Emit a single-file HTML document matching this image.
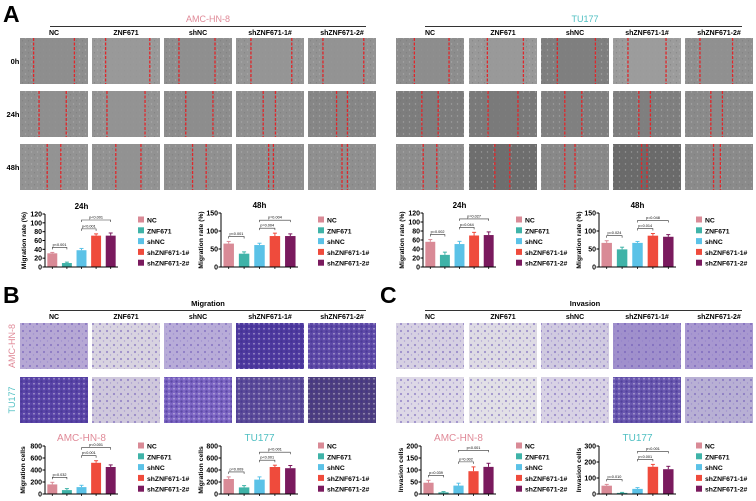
<!DOCTYPE html>
<html><head><meta charset="utf-8">
<style>
html,body{margin:0;padding:0;background:#fff;}
body{width:756px;height:501px;overflow:hidden;position:relative;font-family:"Liberation Sans",sans-serif;}
svg{position:absolute;left:0;top:0;}
</style></head>
<body>
<svg id="fig" width="756" height="501" viewBox="0 0 756 501" xmlns="http://www.w3.org/2000/svg">
<defs>
<pattern id="cellsTex" width="6" height="6" patternUnits="userSpaceOnUse"><circle cx="1.5" cy="2" r="0.7" fill="#b9b9b9"/><circle cx="4.5" cy="4.8" r="0.6" fill="#6f6f6f"/></pattern>
<pattern id="dotsDark" width="5" height="5" patternUnits="userSpaceOnUse"><circle cx="1.5" cy="1.5" r="1.2" fill="#3a2a88"/><circle cx="4" cy="3.8" r="0.9" fill="#e8e2f0"/></pattern>
<pattern id="dotsLight" width="7" height="7" patternUnits="userSpaceOnUse"><circle cx="2" cy="2" r="1.1" fill="#6a55b5"/><circle cx="5.5" cy="5" r="0.7" fill="#8a78c8"/></pattern>
</defs>
<g id="static" font-family="Liberation Sans, sans-serif" font-weight="bold">
<text x="3" y="22" font-size="23">A</text>
<text x="3" y="303" font-size="23">B</text>
<text x="380" y="303" font-size="23">C</text>
<text x="208" y="22" font-size="9" fill="#e08a98" text-anchor="middle" font-weight="normal">AMC-HN-8</text>
<line x1="50" y1="26.5" x2="366" y2="26.5" stroke="#333" stroke-width="1"/>
<text x="585" y="22" font-size="9" fill="#4fbfc2" text-anchor="middle" font-weight="normal">TU177</text>
<line x1="425" y1="26.5" x2="742" y2="26.5" stroke="#333" stroke-width="1"/>
<text x="208" y="306" font-size="7.5" text-anchor="middle">Migration</text>
<line x1="50" y1="310.5" x2="366" y2="310.5" stroke="#333" stroke-width="1"/>
<text x="585" y="306" font-size="7.5" text-anchor="middle">Invasion</text>
<line x1="425" y1="310.5" x2="742" y2="310.5" stroke="#333" stroke-width="1"/>
<text x="15" y="64" font-size="7.5" text-anchor="middle">0h</text>
<text x="13" y="117" font-size="7.5" text-anchor="middle">24h</text>
<text x="13" y="170" font-size="7.5" text-anchor="middle">48h</text>
<text transform="translate(15,346) rotate(-90)" font-size="9" fill="#e08a98" text-anchor="middle" font-weight="normal">AMC-HN-8</text>
<text transform="translate(15,400) rotate(-90)" font-size="9" fill="#4fbfc2" text-anchor="middle" font-weight="normal">TU177</text>
</g>
<g id="images"></g>
<g id="charts"></g>
</svg>
<script>
// ---- chart data ----
var groups = ["NC","ZNF671","shNC","shZNF671-1#","shZNF671-2#"];
var colors = ["#d98a96","#3fb3a8","#5bc2e7","#ef4b3c","#7a1a5e"];
var a1Vals = [31,9,38,71,71];   var a1Err = [2,2,4,4,6];   var a1Ticks = [0,20,40,60,80,100,120];
var a1P = ["p<0.001","p<0.001","p<0.001"];
var a2Vals = [65,37,61,86,86];  var a2Err = [6,5,5,8,6];   var a2Ticks = [0,50,100,150];
var a2P = ["p<0.001","p=0.004","p=0.004"];
var a3Vals = [56,27,51,70,71];  var a3Err = [5,6,6,7,7];   var a3Ticks = [0,20,40,60,80,100,120];
var a3P = ["p=0.002","p=0.044","p=0.027"];
var a4Vals = [67,49,67,87,84];  var a4Err = [6,6,4,6,6];   var a4Ticks = [0,50,100,150];
var a4P = ["p=0.024","p=0.014","p=0.048"];
var b1Vals = [160,65,115,520,450]; var b1Err = [35,25,30,35,35]; var b1Ticks = [0,200,400,600,800];
var b1P = ["p=0.032","p<0.001","p<0.001"];
var b2Vals = [250,110,240,450,430]; var b2Err = [35,30,45,30,45]; var b2Ticks = [0,200,400,600,800];
var b2P = ["p=0.009","p<0.001","p<0.001"];
var c1Vals = [47,7,35,95,113]; var c1Err = [10,3,10,18,15]; var c1Ticks = [0,50,100,150,200];
var c1P = ["p=0.039","p=0.002","p<0.001"];
var c2Vals = [52,7,32,170,155]; var c2Err = [8,3,8,15,18]; var c2Ticks = [0,100,200,300];
var c2P = ["p=0.010","p<0.001","p<0.001"];

var NS="http://www.w3.org/2000/svg";
function mk(tag, attrs, parent){var e=document.createElementNS(NS,tag);for(var k in attrs)e.setAttribute(k,attrs[k]);parent.appendChild(e);return e;}

// ---- images ----
var imgG=document.getElementById('images');
var leftX=[20,92,164,236,308], rightX=[396,469,541,613,685], cw=68;
function colLabels(xs,y){for(var i=0;i<5;i++){var t=mk('text',{x:xs[i]+cw/2,y:y,'font-size':7,'font-weight':'bold','text-anchor':'middle'},imgG);t.textContent=groups[i];

}}
colLabels(leftX,35);colLabels(rightX,35);colLabels(leftX,319);colLabels(rightX,319);
var woundRows=[38,91,144], rh=46;
var woundL=[[[.2,.8],[.2,.85],[.22,.75],[.22,.82],[.22,.82]],[[.28,.68],[.22,.78],[.32,.72],[.4,.58],[.42,.58]],[[.4,.6],[.35,.72],[.42,.62],[.48,.55],[.5,.58]]];
var woundR=[[[.27,.78],[.27,.8],[.24,.8],[.22,.78],[.22,.7]],[[.38,.62],[.28,.72],[.35,.6],[.38,.55],[.38,.55]],[[.4,.6],[.38,.6],[.35,.5],[.42,.5],[.42,.52]]];
function wound(xs,lines,bright){for(var r=0;r<3;r++)for(var c=0;c<5;c++){var x=xs[c],y=woundRows[r];
var b=mk('rect',{x:x,y:y,width:cw,height:rh,fill:bright[r][c]},imgG);


mk('rect',{x:x,y:y,width:cw,height:rh,fill:'url(#cellsTex)',opacity:0.6},imgG);
var l=lines[r][c];
mk('rect',{x:x+cw*l[0],y:y,width:cw*(l[1]-l[0]),height:rh,fill:bright[r][c],opacity:0.85},imgG);
for(var k=0;k<2;k++){var ln=mk('line',{x1:x+cw*l[k],y1:y,x2:x+cw*l[k],y2:y+rh,stroke:'#e0262a','stroke-width':1.3,'stroke-dasharray':'3,1.5'},imgG);

}}}
var gL=[["#8e8e8e","#999","#8f8f8f","#959595","#939393"],["#8f8f8f","#939393","#8d8d8d","#8f8f8f","#868686"],["#939393","#929292","#909090","#8f8f8f","#8f8f8f"]];
var gR=[["#8d8d8d","#999","#7f7f7f","#9c9c9c","#909090"],["#7d7d7d","#7a7a7a","#808080","#7f7f7f","#8a8a8a"],["#8d8d8d","#6e6e6e","#888","#6a6a6a","#8a8a8a"]];
wound(leftX,woundL,gL);wound(rightX,woundR,gR);
var tRows=[323,377], th=46;
var bCol=[["#b6a8d4","#d8d3e0","#b8acd8","#4e3aa0","#5e4aa8"],["#5a45a8","#cfc8dc","#7d66c4","#5c4c9a","#4e4080"]];
var cCol=[["#d6d0e2","#dedbe4","#d0cae0","#a090cc","#a898d0"],["#ddd8e6","#e2e0e6","#d8d2e4","#6a58b0","#b8b0d4"]];
function trans(xs,cols){for(var r=0;r<2;r++)for(var c=0;c<5;c++){var col=cols[r][c];
var b=mk('rect',{x:xs[c],y:tRows[r],width:cw,height:th,fill:col},imgG);


var dark=parseInt(col.substr(1,2),16)<150;
mk('rect',{x:xs[c],y:tRows[r],width:cw,height:th,fill:dark?'url(#dotsDark)':'url(#dotsLight)',opacity:dark?0.5:0.55},imgG);}}
trans(leftX,bCol);trans(rightX,cCol);

// ---- charts ----
var chG=document.getElementById('charts');
function chart(o){
 var g=mk('g',{'font-family':'Liberation Sans, sans-serif','font-weight':'bold'},chG);
 
 
 var ticks=o.ticks, max=ticks[ticks.length-1];
 function ys(v){return o.y0-(v/max)*(o.y0-o.y1);}
 var band=(o.x1-o.x0)/5;
 function xs(i){return o.x0+band*(i+0.5);}
 if(o.title){var t=mk('text',{x:(o.x0+o.x1)/2,y:o.y1-5,'font-size':o.tsz||8,'text-anchor':'middle',fill:o.tcol||'#000','font-weight':o.tcol?'normal':'bold'},g);t.textContent=o.title;
 
 }
 for(var i=0;i<5;i++){
  var v=o.vals[i],e=o.err[i],bw=band*0.68;
  var r=mk('rect',{x:xs(i)-bw/2,y:ys(v),width:bw,height:o.y0-ys(v),fill:colors[i]},g);
  
  
  mk('line',{x1:xs(i),y1:ys(v),x2:xs(i),y2:ys(v+e),stroke:colors[i],'stroke-width':1},g);
  mk('line',{x1:xs(i)-2,y1:ys(v+e),x2:xs(i)+2,y2:ys(v+e),stroke:colors[i],'stroke-width':1},g);
  mk('line',{x1:xs(i),y1:o.y0,x2:xs(i),y2:o.y0+2,stroke:'#000','stroke-width':0.8},g);
 }
 var ax=mk('path',{d:'M'+o.x0+' '+o.y1+'V'+o.y0+'H'+o.x1,fill:'none',stroke:'#000','stroke-width':1},g);
 
 
 ticks.forEach(function(tv){var y=ys(tv);mk('line',{x1:o.x0-2.5,y1:y,x2:o.x0,y2:y,stroke:'#000','stroke-width':1},g);
  var t=mk('text',{x:o.x0-3,y:y+2.5,'font-size':7,'text-anchor':'end'},g);t.textContent=tv;
  
  });
 var yl=mk('text',{transform:'translate('+(o.x0-o.ylOff)+','+((o.y0+o.y1)/2)+') rotate(-90)','font-size':6.8,'text-anchor':'middle'},g);
 yl.textContent=o.ylabel;
 
 
 var pairs=[[0,1],[2,3],[2,4]], lift=[5,5,13];
 pairs.forEach(function(p,k){
  var top=Math.min(ys(o.vals[p[0]]+o.err[p[0]]),ys(o.vals[p[1]]+o.err[p[1]]));
  if(k==2){top=Math.min(top,ys(o.vals[3]+o.err[3]));}
  var y=top-lift[k];
  mk('path',{d:'M'+xs(p[0])+' '+(y+2)+'V'+y+'H'+xs(p[1])+'V'+(y+2),fill:'none',stroke:'#333','stroke-width':0.6},g);
  var t=mk('text',{x:(xs(p[0])+xs(p[1]))/2,y:y-1.5,'font-size':3.8,'text-anchor':'middle','font-weight':'normal'},g);t.textContent=o.p[k];
  
  
 });
 for(var i=0;i<5;i++){var ly=o.ly+i*10.8;
  var s=mk('rect',{x:o.lx,y:ly-3.5,width:6,height:6,fill:colors[i]},g);
  
  
  var t=mk('text',{x:o.lx+9,y:ly+2.5,'font-size':6.8},g);t.textContent=groups[i];
  
  }
}
chart({name:'chart-amc-24h',vals:a1Vals,err:a1Err,ticks:a1Ticks,p:a1P,x0:45,x1:118,y0:267,y1:214,title:'24h',ylabel:'Migration rate (%)',ylOff:19,lx:138,ly:220});
chart({name:'chart-amc-48h',vals:a2Vals,err:a2Err,ticks:a2Ticks,p:a2P,x0:221,x1:298,y0:267,y1:213,title:'48h',ylabel:'Migration rate (%)',ylOff:18,lx:318,ly:220});
chart({name:'chart-tu177-24h',vals:a3Vals,err:a3Err,ticks:a3Ticks,p:a3P,x0:423,x1:496,y0:267,y1:213,title:'24h',ylabel:'Migration rate (%)',ylOff:19,lx:516,ly:220});
chart({name:'chart-tu177-48h',vals:a4Vals,err:a4Err,ticks:a4Ticks,p:a4P,x0:599,x1:676,y0:267,y1:213,title:'48h',ylabel:'Migration rate (%)',ylOff:18,lx:696,ly:220});
chart({name:'chart-migration-amc',vals:b1Vals,err:b1Err,ticks:b1Ticks,p:b1P,x0:45,x1:118,y0:494,y1:446,title:'AMC-HN-8',tcol:'#e08a98',tsz:10,ylabel:'Migration cells',ylOff:20,lx:138,ly:446});
chart({name:'chart-migration-tu177',vals:b2Vals,err:b2Err,ticks:b2Ticks,p:b2P,x0:221,x1:298,y0:494,y1:446,title:'TU177',tcol:'#4fbfc2',tsz:10,ylabel:'Migration cells',ylOff:18,lx:318,ly:446});
chart({name:'chart-invasion-amc',vals:c1Vals,err:c1Err,ticks:c1Ticks,p:c1P,x0:421,x1:496,y0:494,y1:446,title:'AMC-HN-8',tcol:'#e08a98',tsz:10,ylabel:'Invasion cells',ylOff:18,lx:516,ly:446});
chart({name:'chart-invasion-tu177',vals:c2Vals,err:c2Err,ticks:c2Ticks,p:c2P,x0:599,x1:676,y0:494,y1:446,title:'TU177',tcol:'#4fbfc2',tsz:10,ylabel:'Invasion cells',ylOff:18,lx:696,ly:446});
</script>
</body></html>
